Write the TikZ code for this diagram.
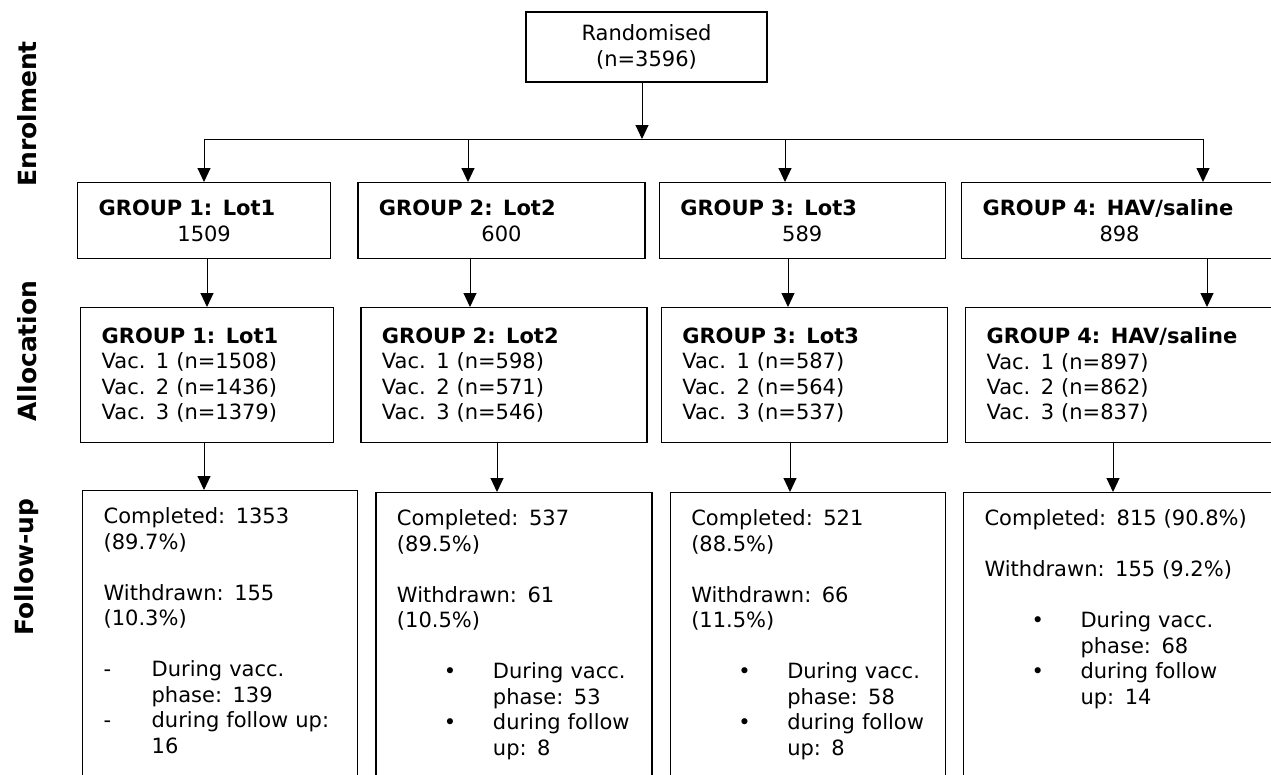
\documentclass[tikz,border=0pt]{standalone}
\usepackage{fontspec}
\setmainfont{DejaVu Sans}
\usetikzlibrary{arrows.meta,positioning}
\tikzset{
  box/.style={draw, line width=1.3pt, inner xsep=21pt, align=left, font=\fontsize{21}{25.5}\selectfont},
  grp/.style={box, minimum height=76pt},
  vac/.style={box, minimum height=135pt},
  fup/.style={box, anchor=north west, inner ysep=17pt, text depth=330pt},
  phase/.style={rotate=90, font=\bfseries\fontsize{25}{30}\selectfont},
  arr/.style={line width=1pt, -{Triangle[length=14pt,width=13pt]}},
}
\newcommand{\dsh}{\makebox[48pt][l]{-}}
\newcommand{\bul}{\makebox[96pt][l]{\hspace*{47pt}•}}
\newcommand{\centred}[1]{\hspace*{\fill}#1\hspace*{\fill}\null}
\begin{document}
\begin{tikzpicture}[x=1pt, y=-1pt, thick]
 \path[use as bounding box] (0,0) rectangle (1271,774);
 \clip (0,0) rectangle (1271,774);
 \node[phase] (enrol) at (27,114) {Enrolment};
 \node[phase] (allocation) at (27,351) {Allocation};
 \node[phase] (followup) at (27,567) {Follow-up};

 \node[box, align=center, minimum width=241pt, minimum height=70pt] (rand) at (646.5,47) {Randomised\\(n=3596)};
 \coordinate (split) at (642,139);
 \coordinate (busL) at (204,139);
 \coordinate (b2) at (468,139);
 \coordinate (b3) at (785,139);
 \coordinate (busR) at (1203,139);

 \node[grp, text width=211pt, anchor=north west] (g1) at (77,182) {\textbf{GROUP 1: Lot1}\\\centred{1509}};
 \node[grp, text width=245pt, right=26pt of g1] (g2) {\textbf{GROUP 2: Lot2}\\\centred{600}};
 \node[grp, text width=244pt, right=13pt of g2] (g3) {\textbf{GROUP 3: Lot3}\\\centred{589}};
 \node[grp, text width=274pt, right=15pt of g3] (g4) {\textbf{GROUP 4: HAV/saline}\\\centred{898}};

 \node[vac, text width=211pt, anchor=north west] (v1) at (80,307) {\textbf{GROUP 1: Lot1}\\Vac. 1 (n=1508)\\Vac. 2 (n=1436)\\Vac. 3 (n=1379)};
 \node[vac, text width=244pt, right=26pt of v1] (v2) {\textbf{GROUP 2: Lot2}\\Vac. 1 (n=598)\\Vac. 2 (n=571)\\Vac. 3 (n=546)};
 \node[vac, text width=244pt, right=13pt of v2] (v3) {\textbf{GROUP 3: Lot3}\\Vac. 1 (n=587)\\Vac. 2 (n=564)\\Vac. 3 (n=537)};
 \node[vac, text width=270pt, right=17pt of v3] (v4) {\textbf{GROUP 4: HAV/saline}\\Vac. 1 (n=897)\\Vac. 2 (n=862)\\Vac. 3 (n=837)};

 \node[fup, text width=233pt] (f1) at (82,490) {Completed: 1353\\(89.7\%)\\[25.5pt]Withdrawn: 155\\(10.3\%)\\[25.5pt]\dsh During vacc.\\\hspace*{48pt}phase: 139\\\dsh during follow up:\\\hspace*{48pt}16};
 \node[fup, text width=234pt] (f2) at ([xshift=17pt, yshift=-2pt]f1.north east) {Completed: 537\\(89.5\%)\\[25.5pt]Withdrawn: 61\\(10.5\%)\\[25.5pt]\bul During vacc.\\\hspace*{96pt}phase: 53\\\bul during follow\\\hspace*{96pt}up: 8};
 \node[fup, text width=233pt] (f3) at ([xshift=17pt]f2.north east) {Completed: 521\\(88.5\%)\\[25.5pt]Withdrawn: 66\\(11.5\%)\\[25.5pt]\bul During vacc.\\\hspace*{96pt}phase: 58\\\bul during follow\\\hspace*{96pt}up: 8};
 \node[fup, text width=272pt] (f4) at ([xshift=17pt]f3.north east) {Completed: 815 (90.8\%)\\[25.5pt]Withdrawn: 155 (9.2\%)\\[25.5pt]\bul During vacc.\\\hspace*{96pt}phase: 68\\\bul during follow\\\hspace*{96pt}up: 14};

 \draw[arr] (rand.south -| split) -- (split);
 \draw[line width=1pt] (busL) -- (busR);
 \draw[arr] (busL) -- (busL |- g1.north);
 \draw[arr] (b2) -- (b2 |- g2.north);
 \draw[arr] (b3) -- (b3 |- g3.north);
 \draw[arr] (busR) -- (busR |- g4.north);

 \draw[arr] (g1.south -| 207,0) -- (v1.north -| 207,0);
 \draw[arr] (g2.south -| 470,0) -- (v2.north -| 470,0);
 \draw[arr] (g3.south -| 788,0) -- (v3.north -| 788,0);
 \draw[arr] (g4.south -| 1207,0) -- (v4.north -| 1207,0);

 \draw[arr] (v1.south -| 204,0) -- (f1.north -| 204,0);
 \draw[arr] (v2.south -| 497,0) -- (f2.north -| 497,0);
 \draw[arr] (v3.south -| 790,0) -- (f3.north -| 790,0);
 \draw[arr] (v4.south -| 1113,0) -- (f4.north -| 1113,0);
\end{tikzpicture}
\end{document}
